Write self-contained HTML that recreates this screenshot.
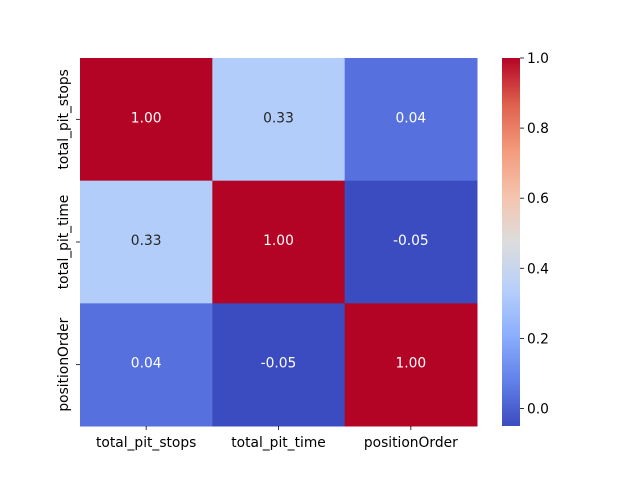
<!DOCTYPE html>
<html><head><meta charset="utf-8">
<style>
html,body{margin:0;padding:0;background:#fff;}
svg text{font-family:"DejaVu Sans","Liberation Sans",sans-serif;font-size:13.8px;}
</style></head>
<body>
<svg id="chart" width="640" height="480" xmlns="http://www.w3.org/2000/svg">
<defs>
<linearGradient id="cw" x1="0" y1="1" x2="0" y2="0">
<stop offset="0" stop-color="rgb(59,76,192)"/>
<stop offset="0.125" stop-color="rgb(98,130,234)"/>
<stop offset="0.25" stop-color="rgb(141,176,254)"/>
<stop offset="0.375" stop-color="rgb(184,208,249)"/>
<stop offset="0.5" stop-color="rgb(221,221,221)"/>
<stop offset="0.625" stop-color="rgb(245,196,173)"/>
<stop offset="0.75" stop-color="rgb(244,154,123)"/>
<stop offset="0.875" stop-color="rgb(222,96,77)"/>
<stop offset="1" stop-color="rgb(180,4,38)"/>
</linearGradient>
</defs>
</svg>
<script>
const labels = ["total_pit_stops","total_pit_time","positionOrder"];
const row0 = [1.00, 0.33, 0.04];
const row1 = [0.33, 1.00, -0.05];
const row2 = [0.04, -0.05, 1.00];
const matrix = [row0,row1,row2];
const cbTicks = [0.0,0.2,0.4,0.6,0.8,1.0];
const vmin = -0.05, vmax = 1.0;

const svg = document.getElementById('chart');
const NS = 'http://www.w3.org/2000/svg';
const L=80,T=58,R=477,B=426;
const cw=(R-L)/labels.length, ch=(B-T)/labels.length;
const stops=[[59,76,192],[98,130,234],[141,176,254],[184,208,249],[221,221,221],[245,196,173],[244,154,123],[222,96,77],[180,4,38]];
function cmap(v){
  let t=(v-vmin)/(vmax-vmin); t=Math.max(0,Math.min(1,t));
  const p=t*(stops.length-1), i=Math.min(stops.length-2,Math.floor(p)), f=p-i;
  return stops[i].map((a,k)=>Math.round(a+(stops[i+1][k]-a)*f));
}
function mk(tag,attrs){const e=document.createElementNS(NS,tag);for(const k in attrs)e.setAttribute(k,attrs[k]);svg.appendChild(e);return e;}
matrix.forEach((row,r)=>row.forEach((v,c)=>{
  const col=cmap(v);
  const rect=mk('rect',{x:L+c*cw,y:T+r*ch,width:cw+0.5,height:ch+0.5,fill:`rgb(${col})`});
  
  
  const lum=0.299*col[0]+0.587*col[1]+0.114*col[2];
  const t=mk('text',{x:L+(c+0.5)*cw,y:T+(r+0.5)*ch+3,'text-anchor':'middle',fill:lum>140?'#262626':'#fff'});
  t.textContent=v.toFixed(2);
  
  
}));
labels.forEach((lab,i)=>{
  const x=L+(i+0.5)*cw;
  mk('line',{x1:x,x2:x,y1:B,y2:B+4,stroke:'#000','stroke-width':0.8});
  const t=mk('text',{x:x,y:B+21,'text-anchor':'middle',fill:'#000'});
  t.textContent=lab;
  
  
  const y=T+(i+0.5)*ch;
  mk('line',{x1:L-4,x2:L,y1:y,y2:y,stroke:'#000','stroke-width':0.8});
  const ty=mk('text',{x:0,y:0,'text-anchor':'middle',fill:'#000',transform:`translate(${L-12},${y}) rotate(-90)`});
  ty.textContent=lab;
  
  
});
const CX=502,CW=18;
const cb=mk('rect',{x:CX,y:T,width:CW,height:B-T,fill:'url(#cw)'});


function cy(v){return B-(v-vmin)/(vmax-vmin)*(B-T);}
cbTicks.forEach(v=>{
  const y=cy(v);
  mk('line',{x1:CX+CW,x2:CX+CW+4,y1:y,y2:y,stroke:'#000','stroke-width':0.8});
  const t=mk('text',{x:CX+CW+7,y:y+5,fill:'#000'});
  t.textContent=v.toFixed(1);
  
  
});
</script>
</body></html>
